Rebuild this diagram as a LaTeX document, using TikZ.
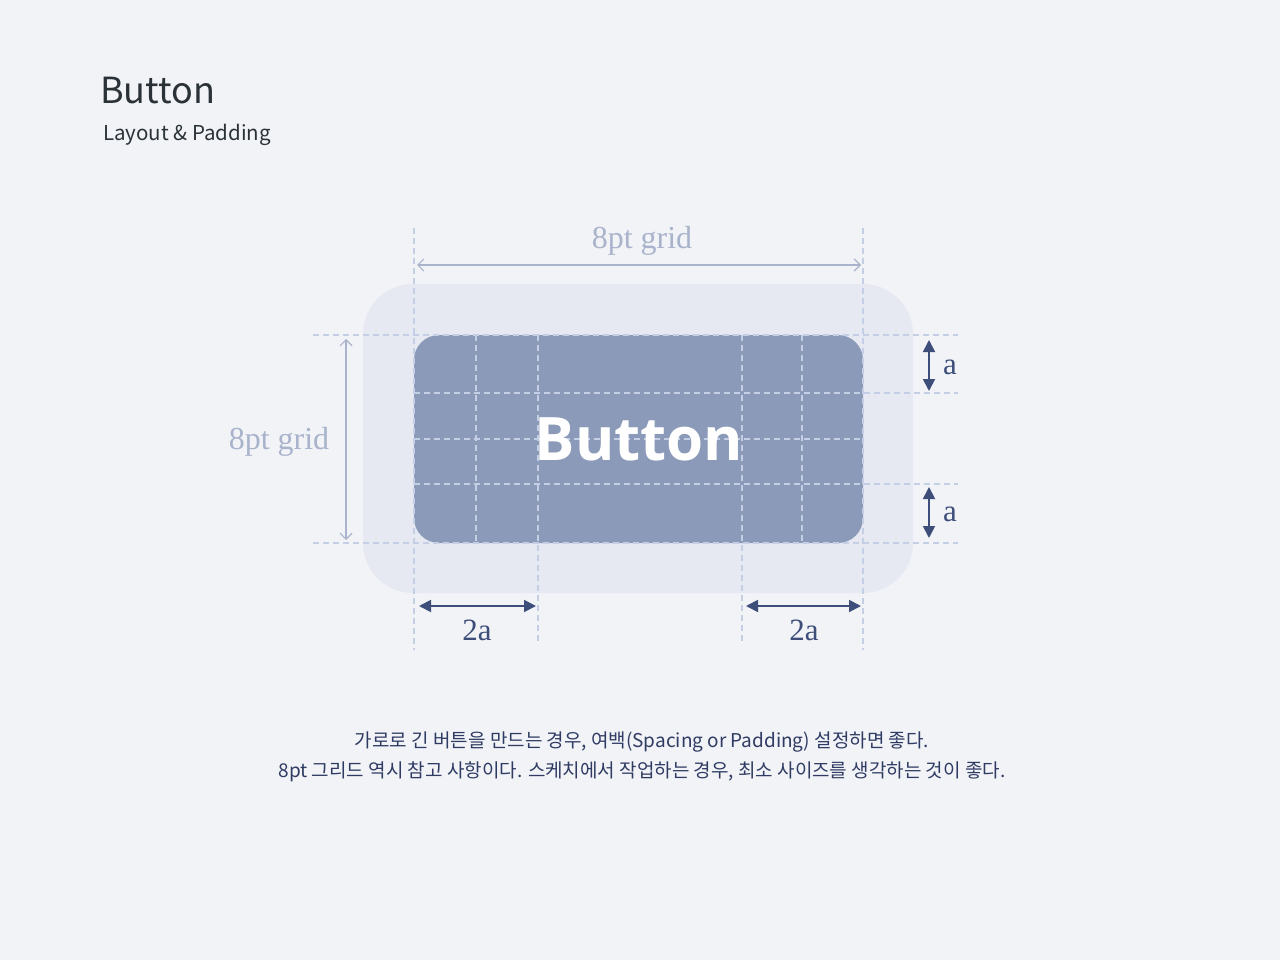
\documentclass[tikz,border=0pt]{standalone}
\usepackage{fontspec}
\usetikzlibrary{arrows.meta}
\setmainfont{Liberation Serif}
\newfontfamily\krfont{Noto Sans CJK KR}
\newfontfamily\btnfont{Open Sans}
\definecolor{bgc}{HTML}{F1F3F7}
\definecolor{outerc}{HTML}{E6E9F1}
\definecolor{btnc}{HTML}{8B9AB8}
\definecolor{gridc}{HTML}{C4CFE5}
\definecolor{lightarr}{HTML}{A9B3CB}
\definecolor{darkarr}{HTML}{3E4E7A}
\definecolor{titlec}{HTML}{2A3238}
\definecolor{krc}{HTML}{2F3B63}
\tikzset{
  gridline/.style={draw=gridc, line width=1.2pt, dash pattern=on 6pt off 4pt},
  lightdim/.style={draw=lightarr, line width=1.2pt, {Straight Barb[length=6pt,width=12pt]}-{Straight Barb[length=6pt,width=12pt]}},
  darkdim/.style={draw=darkarr, line width=1.8pt, {Triangle[length=12pt,width=12pt]}-{Triangle[length=12pt,width=12pt]}},
  lightlbl/.style={text=lightarr, font=\fontsize{32}{36}\selectfont, inner sep=0pt},
  darklbl/.style={text=darkarr, font=\fontsize{31}{34}\selectfont, inner sep=0pt},
}
\begin{document}
\begin{tikzpicture}[x=1pt,y=-1pt]
\useasboundingbox (0,0) rectangle (1280,960);
\fill[bgc] (0,0) rectangle (1280,960);
% titles
\node[anchor=base west, inner sep=0pt, text=titlec, font=\krfont\fontsize{36}{42}\selectfont] (title) at (100,104) {Button};
\node[anchor=base west, inner sep=0pt, text=titlec, font=\krfont\fontsize{20.5}{24}\selectfont] (subtitle) at (103,141) {Layout \& Padding};
% shapes
\node[fill=outerc, rounded corners=50pt, minimum width=550pt, minimum height=309pt, inner sep=0pt] (outer) at (638,438.5) {};
\node[fill=btnc, rounded corners=25pt, minimum width=449pt, minimum height=208pt, inner sep=0pt] (btn) at (638.5,439) {};
% grid lines
\coordinate (v1t) at (414,228); \coordinate (v1b) at (414,650);
\coordinate (v2t) at (476,335); \coordinate (v2b) at (476,543);
\coordinate (v3t) at (538,335); \coordinate (v3b) at (538,645);
\coordinate (v4t) at (742,335); \coordinate (v4b) at (742,645);
\coordinate (v5t) at (802,335); \coordinate (v5b) at (802,543);
\coordinate (v6t) at (863,228); \coordinate (v6b) at (863,650);
\coordinate (h1l) at (313,335); \coordinate (h1r) at (958,335);
\coordinate (h2l) at (414,393); \coordinate (h2r) at (958,393);
\coordinate (h3l) at (414,439); \coordinate (h3r) at (863,439);
\coordinate (h4l) at (414,484); \coordinate (h4r) at (958,484);
\coordinate (h5l) at (313,543); \coordinate (h5r) at (958,543);
\foreach \a/\b in {v1t/v1b,v2t/v2b,v3t/v3b,v4t/v4b,v5t/v5b,v6t/v6b,h1l/h1r,h2l/h2r,h3l/h3r,h4l/h4r,h5l/h5r}
  \draw[gridline] (\a) -- (\b);
% button text
\node[text=white, font=\btnfont\bfseries\fontsize{60}{70}\selectfont, inner sep=0pt, anchor=base] (btntext) at (639,460) {Button};
% light dimension arrows
\coordinate (tl) at (417,265); \coordinate (tr) at (861,265);
\draw[lightdim] (tl) -- (tr);
\node[lightlbl, anchor=base] (toplbl) at (642,248) {8pt grid};
\coordinate (lt) at (346,339); \coordinate (lb) at (346,540);
\draw[lightdim] (lt) -- (lb);
\node[lightlbl, anchor=base] (leftlbl) at (279,449) {8pt grid};
% dark dimension arrows
\coordinate (a1t) at (929,340); \coordinate (a1b) at (929,391);
\draw[darkdim] (a1t) -- (a1b);
\node[darklbl, anchor=base] (a1lbl) at (950,374) {a};
\coordinate (a2t) at (929,487); \coordinate (a2b) at (929,538);
\draw[darkdim] (a2t) -- (a2b);
\node[darklbl, anchor=base] (a2lbl) at (950,521) {a};
\coordinate (b1l) at (419,606); \coordinate (b1r) at (536,606);
\draw[darkdim] (b1l) -- (b1r);
\node[darklbl, anchor=base] (b1lbl) at (477,640) {2a};
\coordinate (b2l) at (746,606); \coordinate (b2r) at (861,606);
\draw[darkdim] (b2l) -- (b2r);
\node[darklbl, anchor=base] (b2lbl) at (804,640) {2a};
% description
\node[text=krc, font=\krfont\fontsize{19}{22}\selectfont, inner sep=0pt, anchor=base] (desc1) at (642,747) {가로로 긴 버튼을 만드는 경우, 여백(Spacing or Padding) 설정하면 좋다.};
\node[text=krc, font=\krfont\fontsize{19}{22}\selectfont, inner sep=0pt, anchor=base] (desc2) at (642,777) {8pt 그리드 역시 참고 사항이다. 스케치에서 작업하는 경우, 최소 사이즈를 생각하는 것이 좋다.};
\end{tikzpicture}
\end{document}
